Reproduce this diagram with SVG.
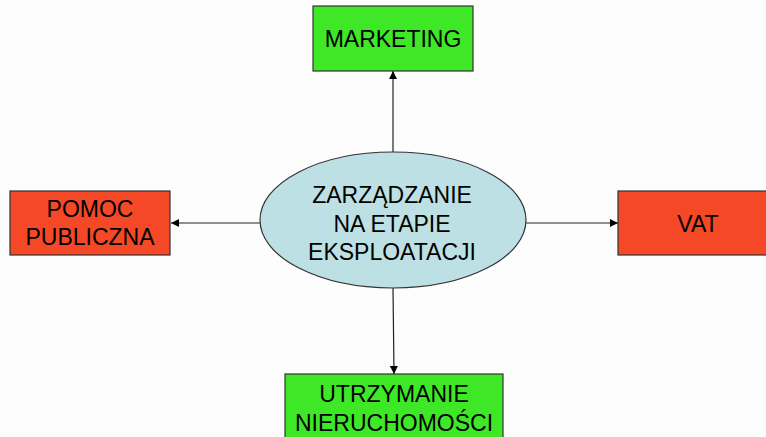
<svg xmlns="http://www.w3.org/2000/svg" width="766" height="437" viewBox="0 0 766 437">
<defs>
<style>
.lbl{font-family:"Liberation Sans",Arial,sans-serif;font-size:23px;fill:#000;text-anchor:middle}
.green{fill:#3ee827;stroke:#333;stroke-width:1.2}
.red{fill:#f54826;stroke:#333;stroke-width:1.2}
.conn{stroke:#222;stroke-width:1.2;fill:none;marker-end:url(#arr)}
</style>
<marker id="arr" viewBox="0 0 10 10" refX="10" refY="5" markerWidth="8" markerHeight="8" markerUnits="userSpaceOnUse" orient="auto">
<path d="M0,0 L10,5 L0,10 z" fill="#000"/>
</marker>
</defs>
<rect width="766" height="437" fill="#fdfdfd"/>
<g id="connectors">
<line class="conn" x1="393" y1="153" x2="393" y2="71"/>
<line class="conn" x1="260" y1="223" x2="171" y2="223"/>
<line class="conn" x1="526" y1="223" x2="618" y2="223"/>
<line class="conn" x1="393" y1="288" x2="394" y2="374"/>
</g>
<g id="center">
<ellipse cx="393" cy="220" rx="133" ry="68" fill="#bde0e4" stroke="#333" stroke-width="1.2"/>
<text class="lbl" x="392" y="203">ZARZĄDZANIE</text>
<text class="lbl" x="392" y="232">NA ETAPIE</text>
<text class="lbl" x="392" y="260">EKSPLOATACJI</text>
</g>
<g id="marketing">
<rect class="green" x="313" y="6" width="160" height="65"/>
<text class="lbl" x="393" y="47">MARKETING</text>
</g>
<g id="pomoc">
<rect class="red" x="10" y="191" width="160" height="64"/>
<text class="lbl" x="90" y="217">POMOC</text>
<text class="lbl" x="90" y="245">PUBLICZNA</text>
</g>
<g id="vat">
<rect class="red" x="618" y="191" width="160" height="64"/>
<text class="lbl" x="698" y="232">VAT</text>
</g>
<g id="utrzymanie">
<rect class="green" x="285" y="374" width="218" height="70"/>
<text class="lbl" x="394" y="402">UTRZYMANIE</text>
<text class="lbl" x="394" y="431">NIERUCHOMOŚCI</text>
</g>
</svg>
